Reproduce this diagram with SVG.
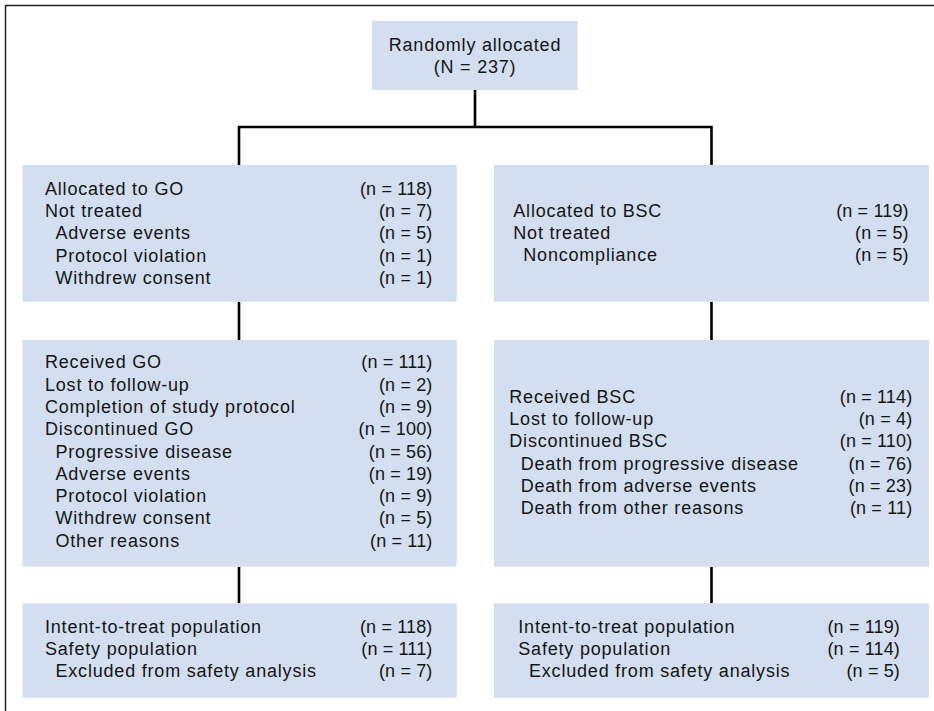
<svg xmlns="http://www.w3.org/2000/svg" width="934" height="711" viewBox="0 0 934 711">
<style>
.box{fill:#d3dff0}
.t{font-family:"Liberation Sans",Arial,sans-serif;font-size:18px;fill:#141414;letter-spacing:0.8px}
.n{font-family:"Liberation Sans",Arial,sans-serif;font-size:18px;fill:#141414;letter-spacing:0.15px;text-anchor:end}
.c{text-anchor:middle}
.conn{stroke:#000;stroke-width:2.6;fill:none}
.frame{stroke:#222;stroke-width:1.5;fill:none}
</style>
<rect width="934" height="711" fill="#fff"/>
<path class="frame" d="M5.5,711 V5.5 H934"/>
<g id="connectors">
<path class="conn" d="M475,90 V127 M239,165 V127 H711.5 V165"/>
<path class="conn" d="M239,301.7 V340 M711.5,301.7 V340"/>
<path class="conn" d="M239,566.7 V603.3 M711.5,566.7 V603.3"/>
</g>
<g id="randomized">
<rect class="box" x="372" y="21" width="205.7" height="69"/>
<text class="t c" x="475" y="50.7">Randomly allocated</text>
<text class="t c" x="475" y="73.3">(N = 237)</text>
</g>
<g id="go-allocation">
<rect class="box" x="22.5" y="165" width="434.2" height="136.7"/>
<text class="t" x="45" y="195">Allocated to GO</text><text class="n" x="432.5" y="195">(n = 118)</text>
<text class="t" x="45" y="217.2">Not treated</text><text class="n" x="432.5" y="217.2">(n = 7)</text>
<text class="t" x="55.5" y="239.4">Adverse events</text><text class="n" x="432.5" y="239.4">(n = 5)</text>
<text class="t" x="55.5" y="261.6">Protocol violation</text><text class="n" x="432.5" y="261.6">(n = 1)</text>
<text class="t" x="55.5" y="283.6">Withdrew consent</text><text class="n" x="432.5" y="283.6">(n = 1)</text>
</g>
<g id="bsc-allocation">
<rect class="box" x="494" y="165" width="435" height="136.7"/>
<text class="t" x="513.3" y="217">Allocated to BSC</text><text class="n" x="908.7" y="217">(n = 119)</text>
<text class="t" x="513.3" y="239.2">Not treated</text><text class="n" x="908.7" y="239.2">(n = 5)</text>
<text class="t" x="523.3" y="261.4">Noncompliance</text><text class="n" x="908.7" y="261.4">(n = 5)</text>
</g>
<g id="go-followup">
<rect class="box" x="22.5" y="340" width="434.2" height="226.7"/>
<text class="t" x="45" y="368.3">Received GO</text><text class="n" x="432.5" y="368.3">(n = 111)</text>
<text class="t" x="45" y="390.6">Lost to follow-up</text><text class="n" x="432.5" y="390.6">(n = 2)</text>
<text class="t" x="45" y="412.9">Completion of study protocol</text><text class="n" x="432.5" y="412.9">(n = 9)</text>
<text class="t" x="45" y="435.2">Discontinued GO</text><text class="n" x="432.5" y="435.2">(n = 100)</text>
<text class="t" x="55.5" y="457.5">Progressive disease</text><text class="n" x="432.5" y="457.5">(n = 56)</text>
<text class="t" x="55.5" y="479.8">Adverse events</text><text class="n" x="432.5" y="479.8">(n = 19)</text>
<text class="t" x="55.5" y="502.1">Protocol violation</text><text class="n" x="432.5" y="502.1">(n = 9)</text>
<text class="t" x="55.5" y="524.4">Withdrew consent</text><text class="n" x="432.5" y="524.4">(n = 5)</text>
<text class="t" x="55.5" y="546.7">Other reasons</text><text class="n" x="432.5" y="546.7">(n = 11)</text>
</g>
<g id="bsc-followup">
<rect class="box" x="494" y="340" width="435" height="226.7"/>
<text class="t" x="509.3" y="402.7">Received BSC</text><text class="n" x="912.3" y="402.7">(n = 114)</text>
<text class="t" x="509.3" y="425">Lost to follow-up</text><text class="n" x="912.3" y="425">(n = 4)</text>
<text class="t" x="509.3" y="447.3">Discontinued BSC</text><text class="n" x="912.3" y="447.3">(n = 110)</text>
<text class="t" x="520.7" y="469.6">Death from progressive disease</text><text class="n" x="912.3" y="469.6">(n = 76)</text>
<text class="t" x="520.7" y="491.9">Death from adverse events</text><text class="n" x="912.3" y="491.9">(n = 23)</text>
<text class="t" x="520.7" y="514.2">Death from other reasons</text><text class="n" x="912.3" y="514.2">(n = 11)</text>
</g>
<g id="go-analysis">
<rect class="box" x="22.5" y="603.3" width="434.2" height="94.4"/>
<text class="t" x="45" y="633.3">Intent-to-treat population</text><text class="n" x="432.5" y="633.3">(n = 118)</text>
<text class="t" x="45" y="655.3">Safety population</text><text class="n" x="432.5" y="655.3">(n = 111)</text>
<text class="t" x="55.5" y="677.4">Excluded from safety analysis</text><text class="n" x="432.5" y="677.4">(n = 7)</text>
</g>
<g id="bsc-analysis">
<rect class="box" x="494" y="603.3" width="435" height="94.4"/>
<text class="t" x="518.3" y="633.3">Intent-to-treat population</text><text class="n" x="900" y="633.3">(n = 119)</text>
<text class="t" x="518.3" y="655.3">Safety population</text><text class="n" x="900" y="655.3">(n = 114)</text>
<text class="t" x="529" y="677.4">Excluded from safety analysis</text><text class="n" x="900" y="677.4">(n = 5)</text>
</g>
</svg>
